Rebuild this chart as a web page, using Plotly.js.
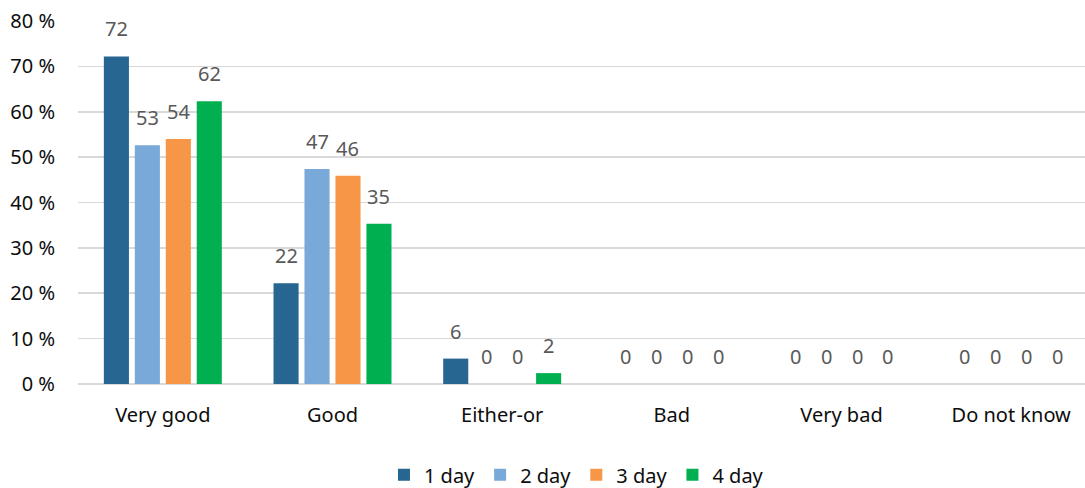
<!DOCTYPE html>
<html>
<head>
<meta charset="utf-8">
<script src="https://cdn.plot.ly/plotly-3.0.1.min.js"></script>
<style>html,body{margin:0;padding:0;background:#fff;}</style>
</head>
<body>
<div id="chart" style="width:1085px;height:488px;"></div>
<script>
const categories = ["Very good", "Good", "Either-or", "Bad", "Very bad", "Do not know"];
const seriesNames = ["1 day", "2 day", "3 day", "4 day"];
const day1 = [72.2, 22.2, 5.6, 0, 0, 0];
const day2 = [52.6, 47.4, 0, 0, 0, 0];
const day3 = [54.0, 45.9, 0, 0, 0, 0];
const day4 = [62.3, 35.3, 2.4, 0, 0, 0];
const colors = ["#266691", "#79A9D9", "#F79646", "#00B050"];

const allSeries = [day1, day2, day3, day4];
const W = 1085, H = 488;
const margin = {l: 78, r: 0, t: 20.6, b: 104.4, autoexpand: false};
const xRange = [-0.5, 5.435];
const bargap = 0.27, bargroupgap = 0.19;

const traces = allSeries.map((vals, i) => ({
  type: 'bar',
  name: seriesNames[i],
  x: categories,
  y: vals,
  marker: {color: colors[i]},
  hoverinfo: 'skip'
}));

const plotW = W - margin.l - margin.r;
const catPx = plotW / (xRange[1] - xRange[0]);
const slot = catPx * (1 - bargap) / allSeries.length;

const annotations = [];
allSeries.forEach((vals, i) => {
  vals.forEach((v, j) => {
    annotations.push({
      x: categories[j], y: v, xref: 'x', yref: 'y',
      text: String(Math.round(v)),
      showarrow: false,
      xanchor: 'center', yanchor: 'bottom',
      xshift: (i - (allSeries.length - 1) / 2) * slot,
      yshift: 12,
      font: {family: 'Noto Sans', size: 20, color: '#595959'}
    });
  });
});

const layout = {
  width: W, height: H, autosize: false,
  margin: margin,
  paper_bgcolor: '#fff', plot_bgcolor: '#fff',
  barmode: 'group', bargap: bargap, bargroupgap: bargroupgap,
  font: {family: 'Noto Sans', size: 20, color: '#000'},
  xaxis: {
    type: 'category', range: xRange, showgrid: false, showline: false,
    ticks: '', ticklabelstandoff: 17, automargin: false,
    tickfont: {family: 'Noto Sans', size: 20, color: '#0d0d0d'}
  },
  yaxis: {
    range: [0, 80], dtick: 10, tick0: 0, ticksuffix: ' %',
    showgrid: true, gridcolor: '#D9D9D9', gridwidth: 1.6,
    zeroline: true, zerolinecolor: '#D9D9D9', zerolinewidth: 1.6,
    showline: false, ticks: '', ticklabelstandoff: 22, automargin: false,
    tickfont: {family: 'Noto Sans', size: 20, color: '#0d0d0d'}
  },
  showlegend: true,
  legend: {
    orientation: 'h', x: 0.495, xanchor: 'center', y: -0.25, yanchor: 'middle',
    font: {family: 'Noto Sans', size: 20, color: '#0d0d0d'},
    itemwidth: 30, traceorder: 'normal'
  },
  annotations: annotations
};

Plotly.newPlot('chart', traces, layout, {displayModeBar: false, staticPlot: true});
</script>
</body>
</html>
